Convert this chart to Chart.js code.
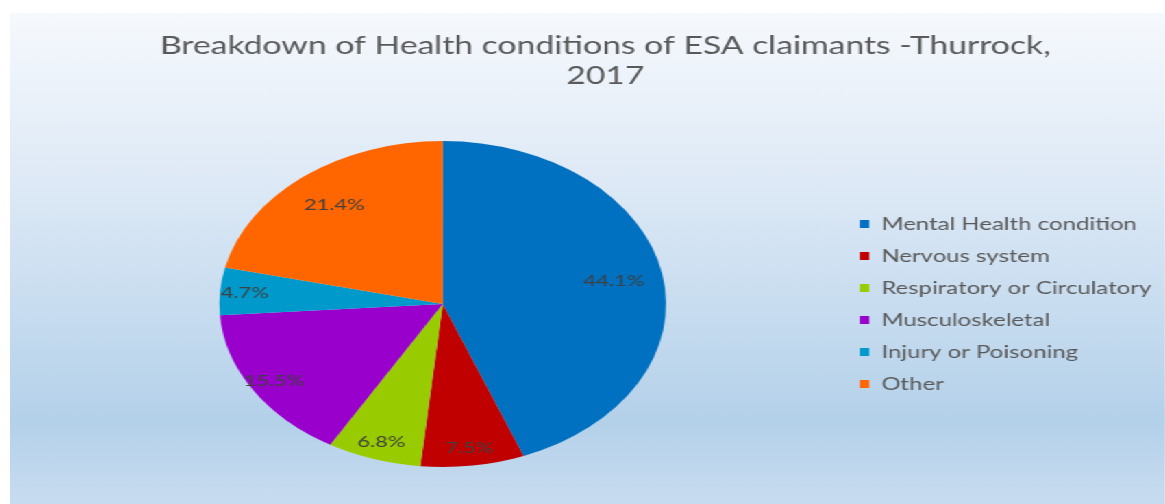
<!DOCTYPE html>
<html>
<head>
<meta charset="utf-8">
<script src="https://cdn.jsdelivr.net/npm/chart.js@4.4.1/dist/chart.umd.min.js"></script>
<style>
  html, body { margin: 0; padding: 0; background: #ffffff; overflow: hidden; }
  /* el original esta estirado en horizontal, asi que se estira el marco entero */
  #marco {
    position: absolute; left: 10px; top: 13px;
    width: 843px; height: 491px;
    transform-origin: 0 0; transform: scaleX(1.3702);
    background: linear-gradient(to bottom, #f6f9fd 0%, #dde9f6 35%, #b4d1ea 83%, #c8dcf0 100%);
  }
</style>
</head>
<body>
<div id="marco"><canvas id="grafico"></canvas></div>
<script>
// Datos del grafico
const categorias = ['Mental Health condition', 'Nervous system', 'Respiratory or Circulatory', 'Musculoskeletal', 'Injury or Poisoning', 'Other'];
const porcentajes = [44.1, 7.5, 6.8, 15.5, 4.7, 21.4];
const colores = ['#0070c0', '#c00000', '#99cc00', '#9900cc', '#0099cc', '#ff6600'];
const titulo = ['Breakdown of Health conditions of ESA claimants -Thurrock,', '2017'];

const fuente = 'Lato';

// Etiquetas de porcentaje dentro de cada porcion
const etiquetasPorcion = {
    id: 'etiquetasPorcion',
    afterDatasetsDraw(chart) {
        const ctx = chart.ctx;
        const meta = chart.getDatasetMeta(0);
        ctx.save();
        ctx.font = '16px ' + fuente;
        ctx.fillStyle = '#404040';
        ctx.textAlign = 'center';
        ctx.textBaseline = 'middle';
        meta.data.forEach((arco, i) => {
            const p = arco.getProps(['x', 'y', 'startAngle', 'endAngle', 'outerRadius'], true);
            const medio = (p.startAngle + p.endAngle) / 2;
            // las porciones pequenas llevan la etiqueta mas cerca del borde
            const r = p.outerRadius * (porcentajes[i] >= 20 ? 0.78 : 0.89);
            ctx.fillText(porcentajes[i].toFixed(1) + '%', p.x + Math.cos(medio) * r, p.y + Math.sin(medio) * r);
        });
        ctx.restore();
    }
};

const ctx = document.getElementById('grafico').getContext('2d');
const grafico = new Chart(ctx, {
    type: 'pie',
    data: {
        labels: categorias,
        datasets: [{
            data: porcentajes,
            backgroundColor: colores,
            borderWidth: 0
        }]
    },
    options: {
        responsive: true,
        maintainAspectRatio: false,
        animation: false,
        layout: { padding: { left: 26, right: 0, top: 0, bottom: 37 } },
        plugins: {
            title: {
                display: true,
                text: titulo,
                color: '#595959',
                font: { family: fuente, size: 24.6, weight: 'normal', lineHeight: 1.22 },
                padding: { top: 18, bottom: 50 }
            },
            legend: {
                position: 'right',
                fullSize: false,
                labels: {
                    color: '#595959',
                    font: { family: fuente, size: 17.5 },
                    boxWidth: 7,
                    boxHeight: 8,
                    padding: 14.5
                }
            },
            tooltip: { enabled: false }
        }
    },
    plugins: [etiquetasPorcion]
});
</script>
</body>
</html>
